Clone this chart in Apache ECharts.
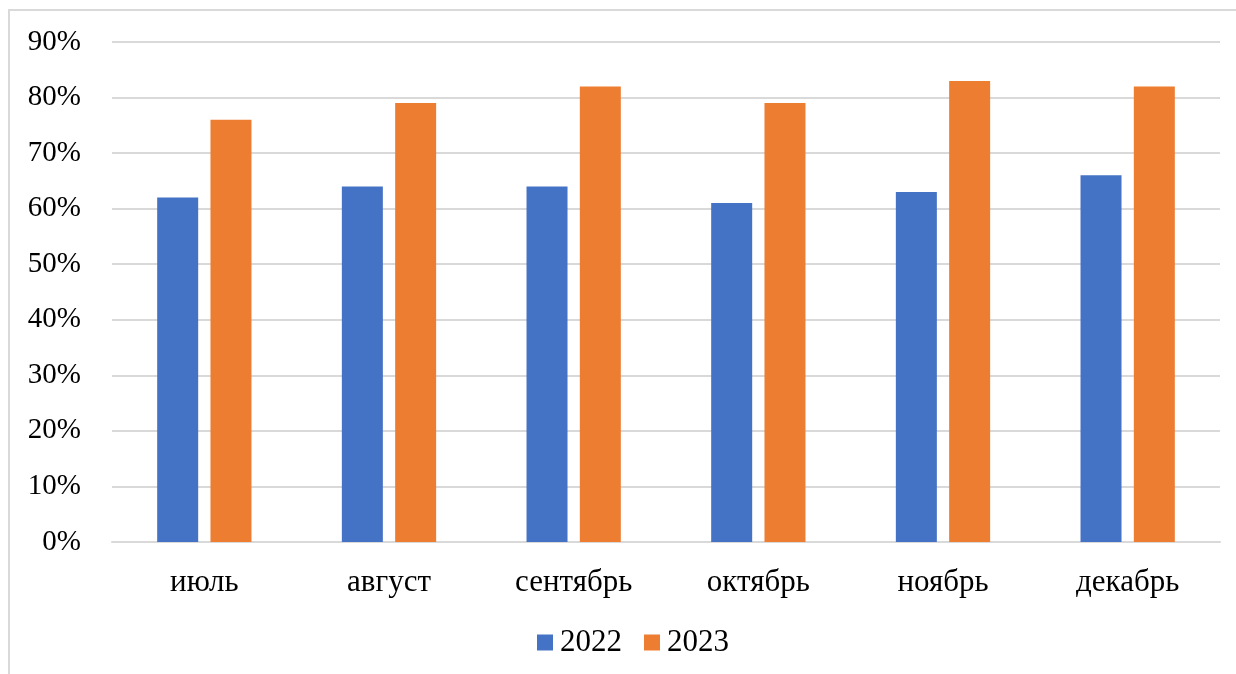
<!DOCTYPE html>
<html>
<head>
    <meta charset="UTF-8"/>
    <script src="https://cdn.jsdelivr.net/npm/echarts@6/dist/echarts.min.js"></script>
    <title>2022 / 2023</title>
    <style>
        html, body {margin: 0; padding: 0; background: #fff;}
        #main {width: 1236px; height: 674px;}
    </style>
</head>
<body>
<div id="main"></div>
<script type="text/javascript">
    var months = ['июль', 'август', 'сентябрь', 'октябрь', 'ноябрь', 'декабрь'];
    var years = ['2022', '2023'];
    var data2022 = [62, 64, 64, 61, 63, 66];
    var data2023 = [76, 79, 82, 79, 83, 82];
    var colors = ['#4472c4', '#ed7d31'];

    var font = '"Liberation Serif", "Times New Roman", serif';
    var myChart = echarts.init(document.getElementById('main'));

    var option = {
        animation: false,
        color: colors,
        textStyle: {fontFamily: font},
        graphic: [{
            type: 'rect',
            shape: {x: 9, y: 10, width: 1240, height: 680},
            style: {fill: 'none', stroke: '#d9d9d9', lineWidth: 2},
            silent: true
        }],
        grid: {left: 112, right: 16, top: 42, bottom: 132},
        legend: {
            data: years,
            bottom: 11,
            left: 532,
            icon: 'rect',
            itemWidth: 16,
            itemHeight: 16,
            itemGap: 22,
            textStyle: {fontFamily: font, fontSize: 31, color: '#000', padding: [0, 0, 0, 2]}
        },
        xAxis: {
            type: 'category',
            data: months,
            axisLine: {show: true, lineStyle: {color: '#d9d9d9', width: 2}},
            axisTick: {show: false},
            axisLabel: {fontFamily: font, fontSize: 31, color: '#000', margin: 25}
        },
        yAxis: {
            type: 'value',
            min: 0,
            max: 90,
            interval: 10,
            axisLine: {show: false},
            axisTick: {show: false},
            splitLine: {lineStyle: {color: '#d9d9d9', width: 2}},
            axisLabel: {
                fontFamily: font, fontSize: 29, color: '#000', margin: 31,
                formatter: '{value}%'
            }
        },
        series: [
            {name: years[0], type: 'bar', data: data2022, barWidth: 41, barGap: '30%'},
            {name: years[1], type: 'bar', data: data2023, barWidth: 41, barGap: '30%'}
        ]
    };
    myChart.setOption(option);
</script>
</body>
</html>
